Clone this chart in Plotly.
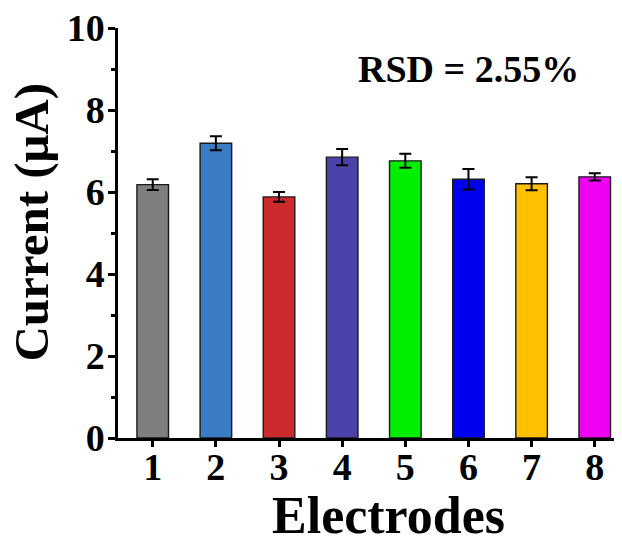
import plotly.graph_objects as go

electrodes = [1, 2, 3, 4, 5, 6, 7, 8]
current = [6.18, 7.19, 5.88, 6.85, 6.76, 6.31, 6.20, 6.37]
errors = [0.13, 0.17, 0.12, 0.20, 0.17, 0.25, 0.16, 0.09]
colors = ["#7f7f7f", "#3b7dc4", "#cc2a2c", "#4b42aa", "#00ee00", "#0000f0", "#ffc000", "#f000f0"]
y_ticks = [0, 2, 4, 6, 8, 10]

FONT = "Liberation Serif"

fig = go.Figure()
fig.add_trace(go.Bar(
    x=electrodes, y=current, width=0.5,
    marker=dict(color=colors, line=dict(color="#1a1a1a", width=1.4)),
    error_y=dict(type="data", array=errors, color="black", thickness=2, width=6),
    showlegend=False,
))

fig.add_annotation(x=6.0, y=9.0, xref="x", yref="y", text="<b>RSD = 2.55%</b>",
                   showarrow=False, font=dict(family=FONT, size=38, color="black"))
fig.add_annotation(x=-0.172, y=0.527, xref="paper", yref="paper", text="<b>Current (μA)</b>",
                   xanchor="center", yanchor="middle",
                   textangle=-90, showarrow=False, font=dict(family=FONT, size=49, color="black"))
fig.add_annotation(x=0.538, y=-0.19, xref="paper", yref="paper", text="<b>Electrodes</b>",
                   xanchor="center", yanchor="middle",
                   showarrow=False, font=dict(family=FONT, size=52, color="black"))

# page body has an 8px default margin, so the plot area is shifted back by 8px
fig.update_layout(
    width=622, height=543,
    margin=dict(l=110, r=10, t=20, b=113),
    paper_bgcolor="white", plot_bgcolor="white",
    font=dict(family=FONT, color="black"),
)
fig.update_xaxes(
    range=[0.45, 8.4], tickvals=electrodes, ticktext=[f"<b>{e}</b>" for e in electrodes],
    tickfont=dict(family=FONT, size=38), showline=True, linecolor="black", linewidth=2.5,
    ticks="outside", ticklen=6, tickwidth=2.5, tickcolor="black", showgrid=False, zeroline=False,
    ticklabelstandoff=-12, ticklabeloverflow="allow", automargin=False,
)
fig.update_yaxes(
    range=[0, 10], tickvals=y_ticks, ticktext=[f"<b>{v}</b>" for v in y_ticks],
    tickfont=dict(family=FONT, size=38), showline=True, linecolor="black", linewidth=2.5,
    ticks="outside", ticklen=7, tickwidth=2.5, tickcolor="black", showgrid=False, zeroline=False,
    minor=dict(dtick=1, ticks="outside", ticklen=4, tickwidth=2.5, tickcolor="black"),
    ticklabelstandoff=-4, ticklabeloverflow="allow", automargin=False,
)

fig.write_html("out.html")
